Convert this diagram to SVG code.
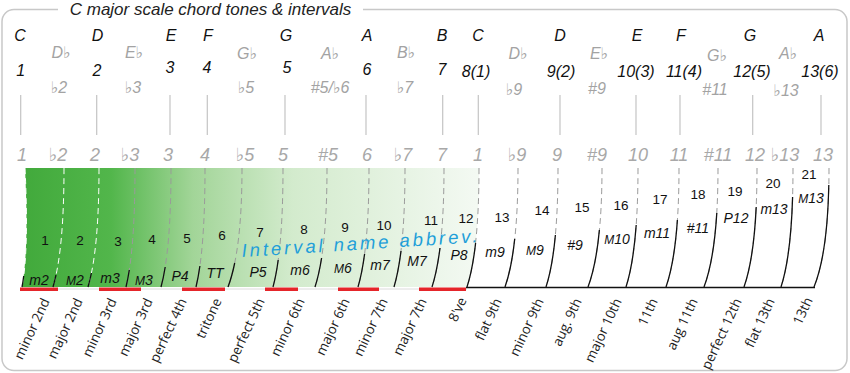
<svg xmlns="http://www.w3.org/2000/svg" width="850" height="373" viewBox="0 0 850 373">
<defs>
<linearGradient id="gr" gradientUnits="userSpaceOnUse" x1="20" y1="0" x2="475" y2="0">
<stop offset="0" stop-color="#41a93b"/>
<stop offset="0.2" stop-color="#52b64b"/>
<stop offset="0.38" stop-color="#a2d598"/>
<stop offset="0.6" stop-color="#d3ebcd"/>
<stop offset="1" stop-color="#f3f9f2"/>
</linearGradient>
<style>
.t{font-family:"Liberation Sans","DejaVu Sans",Arial,sans-serif}
.nat{font-style:italic;font-size:16px;fill:#111;text-anchor:middle}
.flat{font-style:italic;font-size:16px;fill:#a3a3a3;text-anchor:middle}
.deg{font-style:italic;font-size:18px;fill:#a8a8a8;text-anchor:middle}
.num{font-size:13.5px;fill:#111;text-anchor:middle}
.abbr{font-style:italic;font-size:14px;fill:#111;text-anchor:middle}
.lab{font-family:"Open Sans","Noto Sans",sans-serif;font-size:13.5px;fill:#222;text-anchor:end}
.vl{stroke:#c4c4c4;stroke-width:1.2}
.dash{fill:none;stroke:#9a9a9a;stroke-width:1;stroke-dasharray:6 4}
.dw{stroke:#ffffff}
.solid{fill:none;stroke:#111;stroke-width:1.3}
.red{fill:#e5252a}
</style>
</defs>
<rect width="850" height="373" fill="#ffffff"/>
<g id="frame">
<rect x="2" y="9.5" width="845" height="361" rx="12" fill="none" stroke="#c8c8c8" stroke-width="1.5"/>
<rect x="58" y="2" width="305" height="16" fill="#ffffff"/>
<text class="t" x="210.5" y="15" font-size="17" font-style="italic" fill="#222" text-anchor="middle">C major scale chord tones &amp; intervals</text>
</g>
<g id="letters" class="t">
<text class="nat" x="20" y="41">C</text>
<text class="nat" x="97.5" y="41">D</text>
<text class="nat" x="171" y="41">E</text>
<text class="nat" x="208" y="41">F</text>
<text class="nat" x="286" y="41">G</text>
<text class="nat" x="367" y="41">A</text>
<text class="nat" x="442" y="41">B</text>
<text class="nat" x="478" y="41">C</text>
<text class="nat" x="560" y="41">D</text>
<text class="nat" x="637" y="41">E</text>
<text class="nat" x="681" y="41">F</text>
<text class="nat" x="750" y="41">G</text>
<text class="nat" x="819" y="41">A</text>
<text class="flat" x="61" y="58">D♭</text>
<text class="flat" x="134" y="58">E♭</text>
<text class="flat" x="247" y="59">G♭</text>
<text class="flat" x="330" y="59">A♭</text>
<text class="flat" x="406" y="58">B♭</text>
<text class="flat" x="518" y="59">D♭</text>
<text class="flat" x="599" y="59">E♭</text>
<text class="flat" x="717" y="61">G♭</text>
<text class="flat" x="788" y="59">A♭</text>
</g>
<g id="degrees" class="t">
<text class="nat" x="20.7" y="76">1</text>
<text class="nat" x="97" y="76">2</text>
<text class="nat" x="170" y="73">3</text>
<text class="nat" x="207" y="73">4</text>
<text class="nat" x="287" y="73">5</text>
<text class="nat" x="367" y="75">6</text>
<text class="nat" x="442" y="75">7</text>
<text class="nat" x="476" y="77">8(1)</text>
<text class="nat" x="561" y="77">9(2)</text>
<text class="nat" x="636" y="77">10(3)</text>
<text class="nat" x="684" y="77">11(4)</text>
<text class="nat" x="752" y="77">12(5)</text>
<text class="nat" x="820" y="77">13(6)</text>
<text class="flat" x="59" y="93">♭2</text>
<text class="flat" x="133" y="93">♭3</text>
<text class="flat" x="246" y="93">♭5</text>
<text class="flat" x="330" y="93" font-size="13">#5/♭6</text>
<text class="flat" x="405" y="93">♭7</text>
<text class="flat" x="514" y="95">♭9</text>
<text class="flat" x="597" y="94" font-size="13">#9</text>
<text class="flat" x="715" y="95" font-size="14">#11</text>
<text class="flat" x="786" y="96">♭13</text>
</g>
<g id="ticks">
<line class="vl" x1="20.7" y1="95" x2="20.7" y2="135"/>
<line class="vl" x1="96.7" y1="95" x2="96.7" y2="135"/>
<line class="vl" x1="170" y1="95" x2="170" y2="135"/>
<line class="vl" x1="207.3" y1="95" x2="207.3" y2="135"/>
<line class="vl" x1="285" y1="95" x2="285" y2="135"/>
<line class="vl" x1="366" y1="95" x2="366" y2="135"/>
<line class="vl" x1="442.7" y1="95" x2="442.7" y2="135"/>
<line class="vl" x1="478.3" y1="95" x2="478.3" y2="135"/>
<line class="vl" x1="560" y1="95" x2="560" y2="135"/>
<line class="vl" x1="636" y1="95" x2="636" y2="135"/>
<line class="vl" x1="680" y1="95" x2="680" y2="135"/>
<line class="vl" x1="752.7" y1="95" x2="752.7" y2="135"/>
<line class="vl" x1="821" y1="95" x2="821" y2="135"/>
</g>
<g id="steps" class="t">
<text class="deg" x="22" y="161">1</text>
<text class="deg" x="58" y="161">♭2</text>
<text class="deg" x="95" y="161">2</text>
<text class="deg" x="130" y="161">♭3</text>
<text class="deg" x="168" y="161">3</text>
<text class="deg" x="205" y="161">4</text>
<text class="deg" x="245" y="161">♭5</text>
<text class="deg" x="283" y="161">5</text>
<text class="deg" x="328" y="161">#5</text>
<text class="deg" x="367" y="161">6</text>
<text class="deg" x="403" y="161">♭7</text>
<text class="deg" x="442" y="161">7</text>
<text class="deg" x="478" y="161">1</text>
<text class="deg" x="517" y="161">♭9</text>
<text class="deg" x="557" y="161">9</text>
<text class="deg" x="597" y="161">#9</text>
<text class="deg" x="638" y="161">10</text>
<text class="deg" x="679" y="161">11</text>
<text class="deg" x="718" y="161">#11</text>
<text class="deg" x="755" y="161">12</text>
<text class="deg" x="785" y="161">♭13</text>
<text class="deg" x="823" y="161">13</text>
</g>
<g id="band">
<path d="M25,168 L479,168 Q479,250 467,287 L22,287 Q29,250 25,168 Z" fill="url(#gr)"/>
<line x1="20" y1="289" x2="467" y2="289" stroke="#dcdcdc" stroke-width="1"/>
<line x1="466" y1="287.5" x2="815" y2="287.5" stroke="#111" stroke-width="1.3"/>
<rect class="red" x="20" y="287.5" width="38" height="3.5"/>
<rect class="red" x="99" y="287.5" width="42" height="3.5"/>
<rect class="red" x="182" y="287.5" width="43" height="3.5"/>
<rect class="red" x="265" y="287.5" width="33" height="3.5"/>
<rect class="red" x="338" y="287.5" width="41" height="3.5"/>
<rect class="red" x="419" y="287.5" width="47" height="3.5"/>
</g>
<g id="connectors">
<path class="dash dw" d="M25,168 Q29,250 22,287"/>
<path class="dash dw" d="M64,168 Q64,250 53,287"/>
<path class="dash dw" d="M99,168 Q99,250 88,287"/>
<path class="dash" d="M135,168 Q135,250 126,287"/>
<path class="dash" d="M171,168 Q171,250 161,287"/>
<path class="dash" d="M205,168 Q205,250 196,287"/>
<path class="dash" d="M242,168 Q242,250 228,287"/>
<path class="dash" d="M283,168 Q283,250 273,287"/>
<path class="dash" d="M327,168 Q327,250 315,287"/>
<path class="dash" d="M369,168 Q369,250 358,287"/>
<path class="dash" d="M405,168 Q405,250 394,287"/>
<path class="dash" d="M444,168 Q444,250 432,287"/>
<path class="dash" d="M479,168 Q479,250 467,287"/>
<path class="dash" d="M518,168 Q518,250 505,287"/>
<path class="dash" d="M558,168 Q558,250 546,287"/>
<path class="dash" d="M602,168 Q602,250 588,287"/>
<path class="dash" d="M638,168 Q638,250 626,287"/>
<path class="dash" d="M679,168 Q679,250 666,287"/>
<path class="dash" d="M718,168 Q718,250 704,287"/>
<path class="dash" d="M757,168 Q757,250 744,287"/>
<path class="dash" d="M793,168 Q793,250 781,287"/>
<path class="dash" d="M829,168 Q829,250 814,287"/>
<path class="solid" d="M23.7,276 Q23,281.9 22,287"/>
<path class="solid" d="M56,275 Q54.6,281.5 53,287"/>
<path class="solid" d="M91.4,273 Q89.9,280.7 88,287"/>
<path class="solid" d="M129.3,270 Q127.8,279.5 126,287"/>
<path class="solid" d="M165.2,267 Q163.4,278.3 161,287"/>
<path class="solid" d="M199.9,266 Q198.2,277.9 196,287"/>
<path class="solid" d="M234.7,263 Q231.9,276.7 228,287"/>
<path class="solid" d="M278.2,260 Q276.1,275.6 273,287"/>
<path class="solid" d="M321.6,258 Q318.9,274.9 315,287"/>
<path class="solid" d="M364.6,254 Q362,273.5 358,287"/>
<path class="solid" d="M401,251 Q398.3,272.5 394,287"/>
<path class="solid" d="M440,248 Q437,271.5 432,287"/>
<path class="solid" d="M475.6,243 Q472.6,269.8 467,287"/>
<path class="solid" d="M514.7,239 Q511.5,268.6 505,287"/>
<path class="solid" d="M555.4,235 Q552.4,267.4 546,287"/>
<path class="solid" d="M599.4,230 Q596,265.8 588,287"/>
<path class="solid" d="M636.2,225 Q633.3,264.4 626,287"/>
<path class="solid" d="M677.4,220 Q674.4,263 666,287"/>
<path class="solid" d="M716.8,213 Q713.8,261.1 704,287"/>
<path class="solid" d="M756.2,207 Q753.7,259.5 744,287"/>
<path class="solid" d="M792.6,197 Q790.8,256.9 781,287"/>
<path class="solid" d="M828.8,185 Q827.4,254 814,287"/>
</g>
<g id="interval-numbers" class="t">
<text class="num" x="45" y="245">1</text>
<text class="num" x="80" y="245">2</text>
<text class="num" x="118" y="246">3</text>
<text class="num" x="152" y="244">4</text>
<text class="num" x="187" y="243">5</text>
<text class="num" x="222" y="240">6</text>
<text class="num" x="260" y="237">7</text>
<text class="num" x="304" y="234">8</text>
<text class="num" x="345" y="232">9</text>
<text class="num" x="384" y="230">10</text>
<text class="num" x="431" y="225">11</text>
<text class="num" x="466" y="223">12</text>
<text class="num" x="502" y="222">13</text>
<text class="num" x="542" y="215">14</text>
<text class="num" x="582" y="212">15</text>
<text class="num" x="621" y="210">16</text>
<text class="num" x="660" y="204">17</text>
<text class="num" x="698" y="199">18</text>
<text class="num" x="735" y="196">19</text>
<text class="num" x="773" y="188">20</text>
<text class="num" x="809" y="179">21</text>
</g>
<g id="abbrev" class="t">
<text x="242" y="257" transform="rotate(-3.6 242 257)" font-size="18.5" font-style="italic" fill="#1f9fd9" textLength="236" lengthAdjust="spacing">Interval name abbrev.</text>
<text class="abbr" x="39" y="285">m2</text>
<text class="abbr" x="75" y="285"><tspan font-size="12">M</tspan>2</text>
<text class="abbr" x="110" y="283">m3</text>
<text class="abbr" x="144" y="285"><tspan font-size="12">M</tspan>3</text>
<text class="abbr" x="180" y="281">P4</text>
<text class="abbr" x="215" y="278">TT</text>
<text class="abbr" x="258" y="277">P5</text>
<text class="abbr" x="300" y="275">m6</text>
<text class="abbr" x="343" y="273"><tspan font-size="12">M</tspan>6</text>
<text class="abbr" x="380" y="270">m7</text>
<text class="abbr" x="417" y="266">M7</text>
<text class="abbr" x="459" y="260">P8</text>
<text class="abbr" x="495" y="257">m9</text>
<text class="abbr" x="535" y="255"><tspan font-size="12">M</tspan>9</text>
<text class="abbr" x="575" y="250">#9</text>
<text class="abbr" x="617" y="244"><tspan font-size="12">M</tspan>10</text>
<text class="abbr" x="657" y="238">m11</text>
<text class="abbr" x="698" y="233">#11</text>
<text class="abbr" x="736" y="223">P12</text>
<text class="abbr" x="774" y="214">m13</text>
<text class="abbr" x="811" y="203"><tspan font-size="12">M</tspan>13</text>
</g>
<g id="names">
<text class="lab" transform="translate(50,301) rotate(-65)">minor 2nd</text>
<text class="lab" transform="translate(83,301) rotate(-65)">major 2nd</text>
<text class="lab" transform="translate(117,301) rotate(-65)">minor 3rd</text>
<text class="lab" transform="translate(153,301) rotate(-65)">major 3rd</text>
<text class="lab" transform="translate(187,301) rotate(-65)">perfect 4th</text>
<text class="lab" transform="translate(222,301) rotate(-65)">tritone</text>
<text class="lab" transform="translate(265,301) rotate(-65)">perfect 5th</text>
<text class="lab" transform="translate(305,301) rotate(-65)">minor 6th</text>
<text class="lab" transform="translate(350,301) rotate(-65)">major 6th</text>
<text class="lab" transform="translate(388,301) rotate(-65)">minor 7th</text>
<text class="lab" transform="translate(427,301) rotate(-65)">major 7th</text>
<text class="lab" transform="translate(467,300) rotate(-65)">8've</text>
<text class="lab" transform="translate(502,301) rotate(-65)">flat 9th</text>
<text class="lab" transform="translate(544,301) rotate(-65)">minor 9th</text>
<text class="lab" transform="translate(582,301) rotate(-65)">aug. 9th</text>
<text class="lab" transform="translate(622,301) rotate(-65)">major 10th</text>
<text class="lab" transform="translate(658,301) rotate(-65)">11th</text>
<text class="lab" transform="translate(698,301) rotate(-65)">aug 11th</text>
<text class="lab" transform="translate(742,301) rotate(-65)">perfect 12th</text>
<text class="lab" transform="translate(775,301) rotate(-65)">flat 13th</text>
<text class="lab" transform="translate(813,300) rotate(-65)">13th</text>
</g>
</svg>
